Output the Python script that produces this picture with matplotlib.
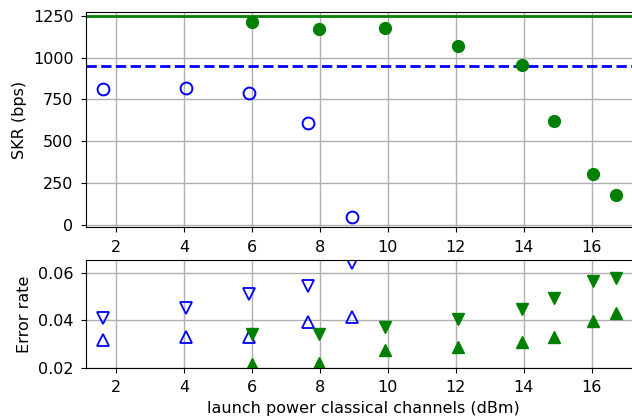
import matplotlib
matplotlib.use("Agg")
import matplotlib.pyplot as plt

# SKR data
x_blue = [1.62, 4.05, 5.9, 7.65, 8.93]
skr_blue = [810, 820, 790, 612, 47]
x_green = [6.0, 7.97, 9.91, 12.05, 13.95, 14.87, 16.04, 16.7]
skr_green = [1214, 1173, 1180, 1071, 958, 619, 303, 178]
skr_green_limit = 1250
skr_blue_limit = 950

# Error rates
err_blue_down = [0.0408, 0.0453, 0.0512, 0.0546, 0.0640]
err_blue_up = [0.0318, 0.0330, 0.0331, 0.0395, 0.0412]
err_green_down = [0.0341, 0.0344, 0.0372, 0.0406, 0.0449, 0.0495, 0.0566, 0.0576]
err_green_up = [0.0218, 0.0223, 0.0275, 0.0286, 0.0307, 0.0331, 0.0398, 0.0432]

xticks = [2, 4, 6, 8, 10, 12, 14, 16]

plt.rcParams['font.size'] = 11.5
fig = plt.figure(figsize=(6.32, 4.18), dpi=100)

W = 632.0
H = 418.0
left = 86 / W
right_px = 640
width = (right_px - 86) / W
xl = (1.12, 1.12 + (right_px - 86) / 34.0)

ax1 = fig.add_axes([left, (H - 227) / H, width, (227 - 12) / H])
ax2 = fig.add_axes([left, (H - 368) / H, width, (368 - 260) / H])

for ax in (ax1, ax2):
    ax.grid(True, color='#b0b0b0', linewidth=1.0)
    ax.set_axisbelow(True)
    ax.set_xticks(xticks)
    ax.set_xlim(*xl)
    ax.tick_params(pad=5.5)

ax1.axhline(skr_green_limit, color='green', linewidth=2)
ax1.axhline(skr_blue_limit, color='blue', linestyle='--', linewidth=2)
ax1.plot(x_blue, skr_blue, 'o', markersize=8.5, markerfacecolor='none',
         markeredgecolor='blue', markeredgewidth=1.4, linestyle='none')
ax1.plot(x_green, skr_green, 'o', markersize=8.5, color='green', linestyle='none')
ax1.set_ylim(-14, 1274)
ax1.set_yticks([0, 250, 500, 750, 1000, 1250])
ax1.set_ylabel('SKR (bps)')

ax2.plot(x_blue, err_blue_down, 'v', markersize=8.5, markerfacecolor='none',
         markeredgecolor='blue', markeredgewidth=1.3, linestyle='none')
ax2.plot(x_blue, err_blue_up, '^', markersize=8.5, markerfacecolor='none',
         markeredgecolor='blue', markeredgewidth=1.3, linestyle='none')
ax2.plot(x_green, err_green_down, 'v', markersize=8.5, color='green', linestyle='none')
ax2.plot(x_green, err_green_up, '^', markersize=8.5, color='green', linestyle='none')
ax2.set_ylim(0.02, 0.0653)
ax2.set_yticks([0.02, 0.04, 0.06])
ax2.set_ylabel('Error rate')
ax2.set_xlabel('launch power classical channels (dBm)')

fig.savefig('out.png', dpi=100)
